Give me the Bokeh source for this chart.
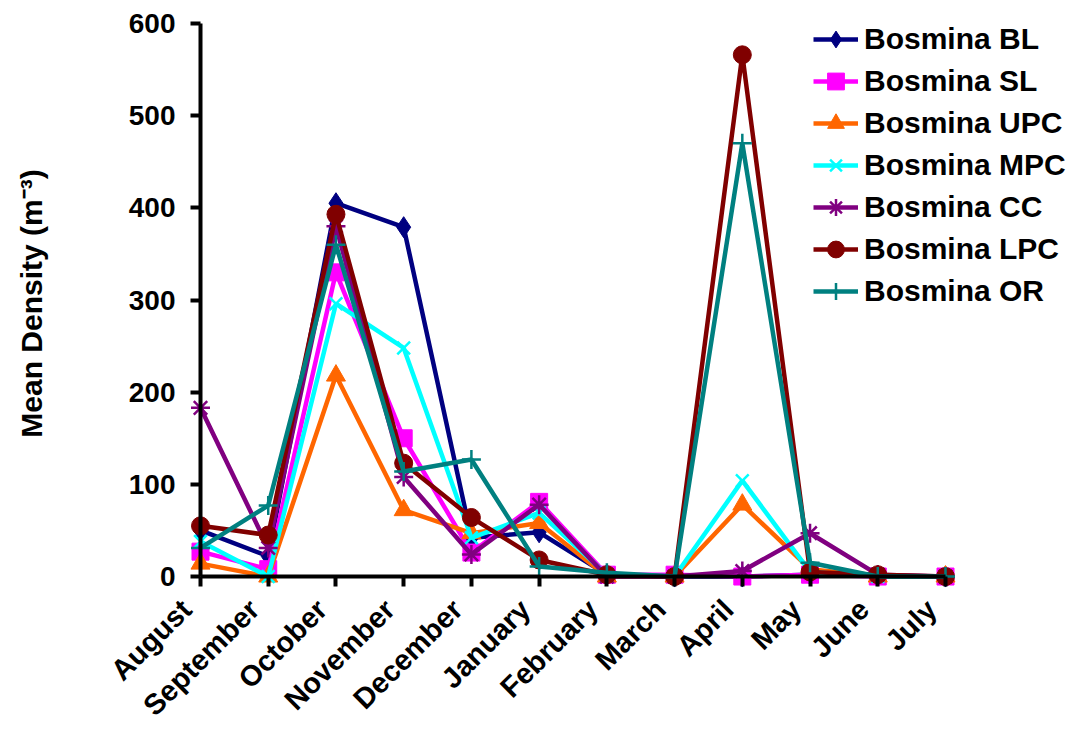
import math
from bokeh.plotting import figure
from bokeh.models import LinearAxis, FixedTicker, Range1d, Legend, LegendItem
from bokeh.embed import file_html
from bokeh.resources import INLINE

# ---- data ----
months = ["August", "September", "October", "November", "December", "January",
          "February", "March", "April", "May", "June", "July"]
y_ticks = [0, 100, 200, 300, 400, 500, 600]

bosmina_bl = [50, 22, 405, 379, 42, 48, 2, 0, 0, 2, 1, 0]
bosmina_sl = [27, 8, 330, 150, 26, 81, 2, 2, 0, 2, 0, 0]
bosmina_upc = [14, 0, 218, 72, 47, 58, 0, 0, 78, 8, 0, 0]
bosmina_mpc = [38, 0, 296, 248, 42, 69, 2, 0, 104, 5, 0, 0]
bosmina_cc = [183, 31, 380, 108, 24, 78, 0, 0, 6, 47, 2, 0]
bosmina_lpc = [55, 45, 393, 123, 64, 18, 2, 0, 566, 5, 2, 0]
bosmina_or = [31, 77, 360, 114, 127, 11, 4, 0, 470, 15, 0, 0]

series_names = ["Bosmina BL", "Bosmina SL", "Bosmina UPC", "Bosmina MPC",
                "Bosmina CC", "Bosmina LPC", "Bosmina OR"]
series_values = [bosmina_bl, bosmina_sl, bosmina_upc, bosmina_mpc,
                 bosmina_cc, bosmina_lpc, bosmina_or]

# ---- styles ----
colors = ["#000080", "#FF00FF", "#FF6600", "#00FFFF", "#800080", "#800000", "#008080"]
markers = ["diamond", "square", "triangle", "x", "asterisk", "circle", "cross"]
sizes = [21, 17, 19, 18, 19, 18, 19]
FONT = "Liberation Sans"

x = list(range(len(months)))

X0, X1 = -0.35437, 12.8604
LABEL_SHIFT = 0.2067  # month labels sit slightly left of their ticks

p = figure(width=1071, height=736, output_backend="svg", toolbar_location=None,
           x_range=Range1d(X0, X1), y_range=Range1d(-21.66, 614.08),
           x_axis_type=None, y_axis_type=None,
           min_border_left=176, min_border_right=0, min_border_top=10, min_border_bottom=139)
p.extra_x_ranges = {"xlab": Range1d(X0 + LABEL_SHIFT, X1 + LABEL_SHIFT)}
p.outline_line_color = None
p.background_fill_color = "white"
p.border_fill_color = "white"

# --- label axes (at frame edges, no rule / ticks) ---
ylab = LinearAxis(bounds=(0, 600), ticker=FixedTicker(ticks=y_ticks),
                  axis_label="Mean Density (m\u207b\u00b3)")
ylab.axis_line_color = None
ylab.major_tick_line_color = None
ylab.major_tick_out = 0
ylab.major_tick_in = 0
ylab.minor_tick_line_color = None
ylab.major_label_standoff = 1
ylab.major_label_text_font = FONT
ylab.major_label_text_font_style = "bold"
ylab.major_label_text_font_size = "28px"
ylab.major_label_text_color = "black"
ylab.axis_label_text_font = FONT
ylab.axis_label_text_font_style = "bold"
ylab.axis_label_text_font_size = "30px"
ylab.axis_label_text_color = "black"
ylab.axis_label_standoff = 78
p.add_layout(ylab, "left")

xlab = LinearAxis(x_range_name="xlab", bounds=(0, len(months) - 1), ticker=FixedTicker(ticks=x),
                  major_label_overrides={i: m for i, m in enumerate(months)})
xlab.axis_line_color = None
xlab.major_tick_line_color = None
xlab.major_tick_out = 0
xlab.major_tick_in = 0
xlab.minor_tick_line_color = None
xlab.major_label_orientation = math.pi / 4
xlab.major_label_standoff = 8
xlab.major_label_text_font = FONT
xlab.major_label_text_font_style = "bold"
xlab.major_label_text_font_size = "29px"
xlab.major_label_text_color = "black"
p.add_layout(xlab, "below")

# --- rule axes (at data zero, inward ticks that point outward) ---
yrule = LinearAxis(fixed_location=0, bounds=(0, 600), ticker=FixedTicker(ticks=y_ticks),
                   major_label_overrides={t: "" for t in y_ticks})
yrule.axis_line_width = 4
yrule.axis_line_color = "black"
yrule.major_tick_line_width = 4
yrule.major_tick_line_color = "black"
yrule.major_tick_in = 10
yrule.major_tick_out = 0
yrule.minor_tick_line_color = None
yrule.major_label_standoff = 0
yrule.major_label_text_font_size = "1px"
p.add_layout(yrule, "right")

xrule = LinearAxis(fixed_location=0, bounds=(0, len(months) - 1), ticker=FixedTicker(ticks=x),
                   major_label_overrides={i: "" for i in x})
xrule.axis_line_width = 4
xrule.axis_line_color = "black"
xrule.major_tick_line_width = 4
xrule.major_tick_line_color = "black"
xrule.major_tick_in = 10
xrule.major_tick_out = 0
xrule.minor_tick_line_color = None
xrule.major_label_standoff = 0
xrule.major_label_text_font_size = "1px"
p.add_layout(xrule, "above")

items = []
for name, vals, col, mk, sz in zip(series_names, series_values, colors, markers, sizes):
    rl = p.line(x, vals, line_color=col, line_width=4.5)
    lw = 2.5 if mk in ("x", "asterisk", "cross") else 1
    rs = p.scatter(x, vals, marker=mk, size=sz,
                   fill_color=col, line_color=col, line_width=lw)
    items.append(LegendItem(label=name, renderers=[rl, rs]))

legend = Legend(items=items, location=(637, 284))
legend.label_text_font = FONT
legend.label_text_font_style = "bold"
legend.label_text_font_size = "30px"
legend.label_text_color = "black"
legend.glyph_width = 45
legend.glyph_height = 42
legend.spacing = 0
legend.label_standoff = 6
legend.padding = 0
legend.margin = 0
legend.border_line_color = None
legend.background_fill_alpha = 0
p.add_layout(legend)

open("out.html", "w").write(file_html(p, INLINE))
